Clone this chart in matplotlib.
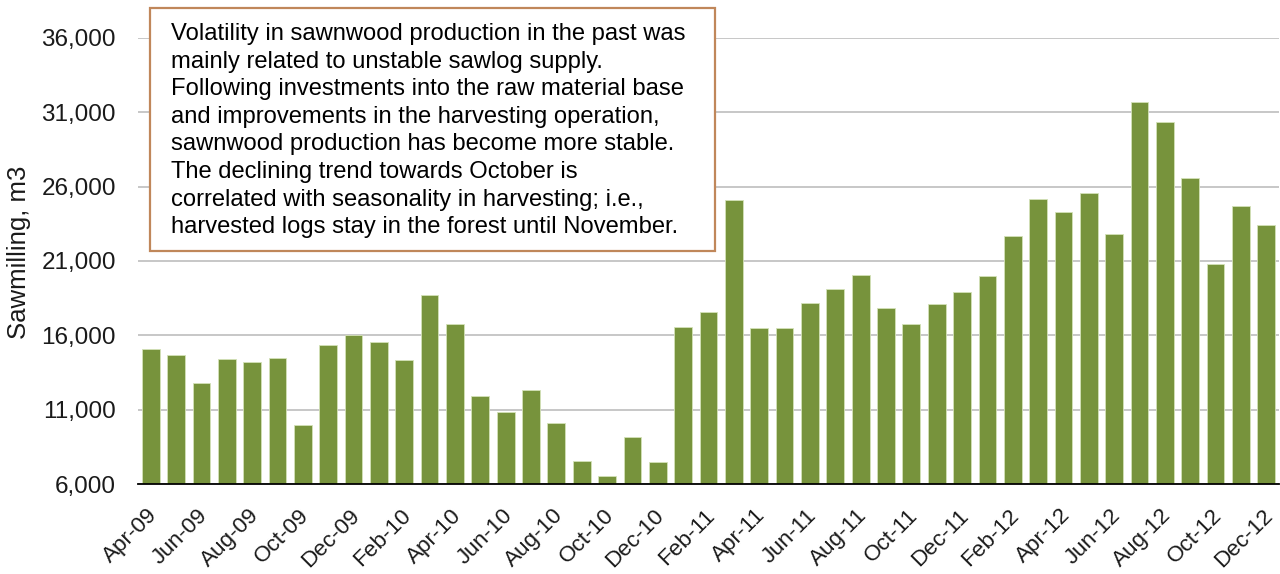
import matplotlib
matplotlib.use("Agg")
import matplotlib.pyplot as plt
from matplotlib.patches import Rectangle
from matplotlib.transforms import ScaledTranslation

months = ["Apr-09", "May-09", "Jun-09", "Jul-09", "Aug-09", "Sep-09", "Oct-09", "Nov-09", "Dec-09",
          "Jan-10", "Feb-10", "Mar-10", "Apr-10", "May-10", "Jun-10", "Jul-10", "Aug-10", "Sep-10",
          "Oct-10", "Nov-10", "Dec-10",
          "Jan-11", "Feb-11", "Mar-11", "Apr-11", "May-11", "Jun-11", "Jul-11", "Aug-11", "Sep-11",
          "Oct-11", "Nov-11", "Dec-11",
          "Jan-12", "Feb-12", "Mar-12", "Apr-12", "May-12", "Jun-12", "Jul-12", "Aug-12", "Sep-12",
          "Oct-12", "Nov-12", "Dec-12"]
sawmilling = [15050, 14680, 12780, 14380, 14210, 14480, 9990, 15320, 16010,
              15560, 14330, 18720, 16750, 11890, 10810, 12310, 10070, 7550,
              6570, 9180, 7450,
              16570, 17560, 25130, 16480, 16480, 18180, 19090, 20070, 17830,
              16750, 18100, 18890,
              19980, 22660, 25200, 24310, 25570, 22790, 31680, 30350, 26560,
              20810, 24680, 23400]
y_ticks = [6000, 11000, 16000, 21000, 26000, 31000, 36000]
note = ("Volatility in sawnwood production in the past was\n"
        "mainly related to unstable sawlog supply.\n"
        "Following investments into the raw material base\n"
        "and improvements in the harvesting operation,\n"
        "sawnwood production has become more stable.\n"
        "The declining trend towards October is\n"
        "correlated with seasonality in harvesting; i.e.,\n"
        "harvested logs stay in the forest until November.")

plt.rcParams['font.family'] = ['Liberation Sans', 'DejaVu Sans']

W, H = 1280, 574
fig = plt.figure(figsize=(W / 100, H / 100), dpi=100)
ax = fig.add_axes([138 / W, 1 - 484 / H, (1279 - 138) / W, (484 - 38) / H])

x = list(range(len(months)))
ax.bar(x, sawmilling, width=0.7, color="#77933C", edgecolor="#d4e2b8", linewidth=0.6, zorder=3)

ax.set_xlim(-0.5, len(months) - 0.5)
ax.set_ylim(6000, 36000)
ax.set_yticks(y_ticks)
ax.set_yticklabels([f"{v:,}" for v in y_ticks], fontsize=17.5, color="#1a1a1a")
ax.yaxis.grid(True, color="#BDBDBD", linewidth=1.2, zorder=0)
ax.set_axisbelow(True)

ax.set_xticks(x[::2])
ax.set_xticklabels(months[::2], rotation=45, ha="right", rotation_mode="anchor",
                   fontsize=16.2, color="#1a1a1a")
ax.tick_params(axis="both", length=0)
ax.tick_params(axis="y", pad=16)
ax.tick_params(axis="x", pad=15)
shift = ScaledTranslation(-4 / 100, 0, fig.dpi_scale_trans)
for lbl in ax.get_xticklabels():
    lbl.set_transform(lbl.get_transform() + shift)

for s in ["top", "right", "left"]:
    ax.spines[s].set_visible(False)
ax.spines["bottom"].set_color("black")
ax.spines["bottom"].set_linewidth(1.3)
ax.spines["bottom"].set_zorder(4)

fig.text(19 / W, 1 - 252 / H, "Sawmilling, m3", rotation=90, ha="center", va="center",
         fontsize=18.5, color="#1a1a1a")

rect = Rectangle((150 / W, 1 - 251 / H), (715 - 150) / W, (251 - 8) / H,
                 transform=fig.transFigure, facecolor="white", edgecolor="#C0875A",
                 linewidth=1.6, zorder=10)
fig.patches.append(rect)
fig.text(171 / W, 1 - 23 / H, note, ha="left", va="top", fontsize=17.1,
         linespacing=1.33, color="black", zorder=11)

fig.savefig("out.png", dpi=100)
